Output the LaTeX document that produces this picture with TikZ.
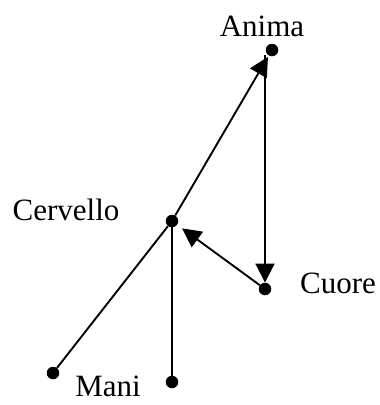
\documentclass[tikz,border=0pt]{standalone}
\usepackage{fontspec}
\setmainfont{Liberation Serif}
\usetikzlibrary{arrows.meta}
\begin{document}
\begin{tikzpicture}[x=1pt,y=-1pt,
  dot/.style={circle,fill=black,inner sep=0pt,minimum size=12.5pt},
  lbl/.style={anchor=base,font=\fontsize{31}{37}\selectfont,inner sep=0pt,text depth=0pt},
  conn/.style={line width=1.9pt},
  arr/.style={conn,-{Triangle[length=19pt,width=19pt]}}]
\useasboundingbox (0,0) rectangle (380,405);
% dots
\node[dot] (Anima) at (272,50) {};
\node[dot] (Cervello) at (172,221) {};
\node[dot] (Cuore) at (265,289) {};
\node[dot] (ManiL) at (53,373) {};
\node[dot] (ManiR) at (172,382) {};
% labels
\node[lbl] (tAnima) at (262,36) {Anima};
\node[lbl] (tCervello) at (66,220) {Cervello};
\node[lbl] (tCuore) at (338,293) {Cuore};
\node[lbl] (tMani) at (108,396) {Mani};
% connectors
\draw[arr, shorten >=1.5pt] (Cervello) -- (Anima);
\coordinate (top) at (Cuore |- Anima);
\draw[arr, shorten <=5pt] (top) -- (Cuore);
\draw[arr, shorten >=6pt] (Cuore) -- (Cervello);
\draw[conn] (Cervello) -- (ManiL);
\draw[conn] (Cervello) -- (ManiR);
\end{tikzpicture}
\end{document}
